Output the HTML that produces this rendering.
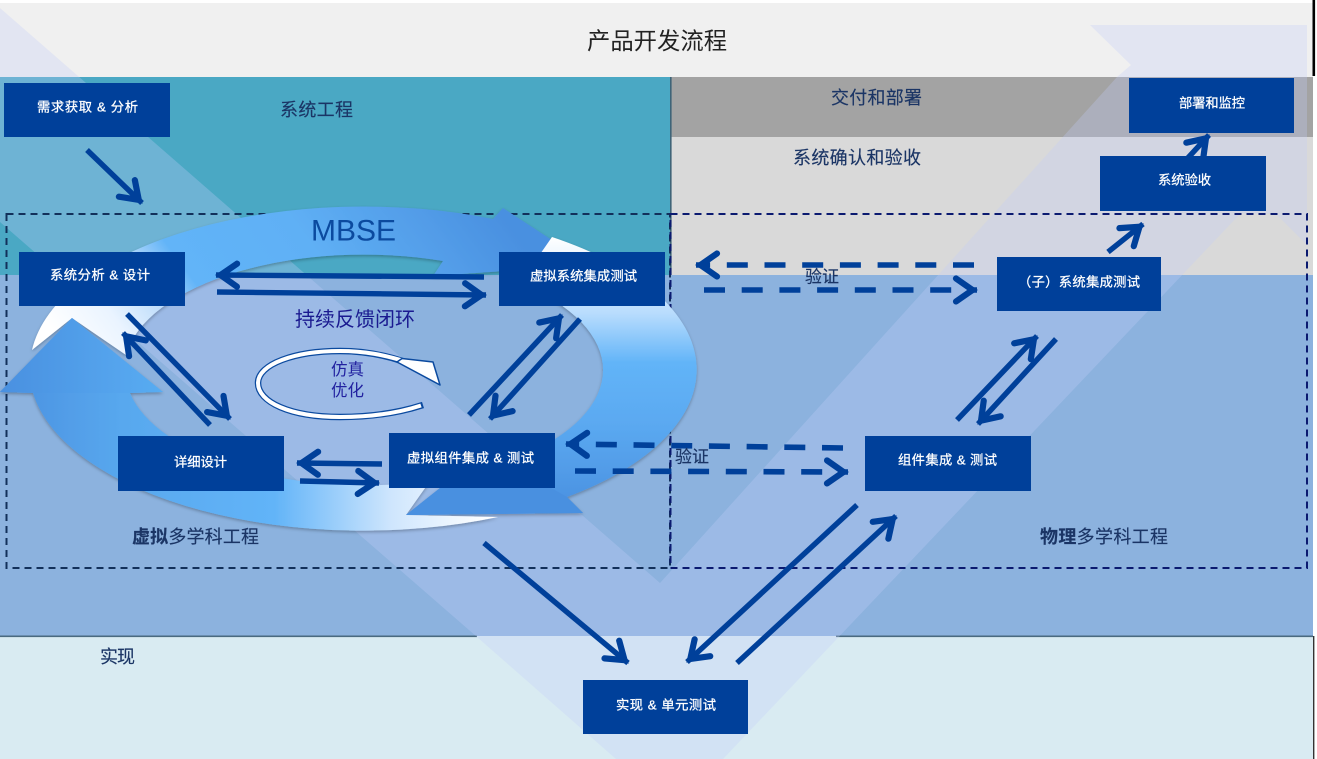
<!DOCTYPE html>
<html lang="zh">
<head>
<meta charset="utf-8">
<title>产品开发流程</title>
<style>
html,body{margin:0;padding:0;background:#fff;width:1317px;height:759px;overflow:hidden}
svg{display:block;filter:blur(.35px)}
text{font-family:"Liberation Sans","Noto Sans CJK SC",sans-serif}
.b{fill:#fff;stroke:#fff;stroke-width:.25;font-size:13.3px;dominant-baseline:central}
.s{fill:#1b3565;stroke:#1b3565;stroke-width:.15;font-size:18px;dominant-baseline:central}
.box{fill:#00409a}
.a{stroke:#00409a;stroke-width:5.4;fill:none;marker-end:url(#h)}
.d{stroke:#00409a;stroke-width:5.6;fill:none;stroke-dasharray:21 16.7;marker-end:url(#h)}
</style>
</head>
<body>
<svg width="1317" height="759" viewBox="0 0 1317 759" xmlns="http://www.w3.org/2000/svg">
<defs>
<marker id="h" markerUnits="userSpaceOnUse" markerWidth="40" markerHeight="40" refX="0" refY="0" viewBox="-30 -20 40 40" orient="auto">
<path d="M-21,-11.5 L-4.5,0 L-21,11.5" fill="none" stroke="#00409a" stroke-width="6.2" stroke-linecap="round"/>
</marker>
<linearGradient id="ga" gradientUnits="userSpaceOnUse" x1="60" y1="340" x2="520" y2="0">
<stop offset="0" stop-color="#ffffff"/><stop offset=".1" stop-color="#eaf4ff"/><stop offset=".18" stop-color="#bcdcfb"/><stop offset=".25" stop-color="#62b4f8"/><stop offset=".45" stop-color="#5fb0f5"/><stop offset=".75" stop-color="#4a90e0"/>
</linearGradient>
<linearGradient id="gb" gradientUnits="userSpaceOnUse" x1="0" y1="237" x2="0" y2="510">
<stop offset="0" stop-color="#ffffff"/><stop offset=".28" stop-color="#b8dcfd"/><stop offset=".46" stop-color="#62b4f8"/><stop offset=".7" stop-color="#5aa8f0"/><stop offset="1" stop-color="#4a90e0"/>
</linearGradient>
<linearGradient id="gc" gradientUnits="userSpaceOnUse" x1="490" y1="0" x2="0" y2="0">
<stop offset="0" stop-color="#ffffff"/><stop offset=".2" stop-color="#cfe6fd"/><stop offset=".44" stop-color="#62b4f8"/><stop offset=".75" stop-color="#58a8ee"/><stop offset="1" stop-color="#4a90e0"/>
</linearGradient>
<linearGradient id="gh" gradientUnits="userSpaceOnUse" x1="0" y1="0" x2="163" y2="0">
<stop offset="0" stop-color="#4a90e0"/><stop offset="1" stop-color="#58acf2"/>
</linearGradient>
<filter id="sh" x="-5%" y="-5%" width="110%" height="110%">
<feDropShadow dx="0" dy="1.5" stdDeviation="1.5" flood-color="#000" flood-opacity=".28"/>
</filter>
</defs>

<!-- bands -->
<rect x="0" y="0" width="1317" height="759" fill="#fff"/>
<rect x="0" y="3" width="1313" height="74" fill="#f0f0f0"/>
<rect x="0" y="77" width="671" height="198" fill="#4aa8c4"/>
<rect x="671" y="77" width="642" height="60" fill="#a3a3a3"/>
<rect x="671" y="137" width="642" height="138" fill="#d9d9d9"/>
<rect x="0" y="275" width="1313" height="361" fill="#8cb2de"/>
<rect x="0" y="636" width="1313" height="123" fill="#d9ebf2"/>
<rect x="670" y="77" width="1.6" height="198" fill="#3f6478"/>
<rect x="0" y="635.5" width="477" height="1.6" fill="#4a6a80"/>
<rect x="836" y="635.5" width="477" height="1.6" fill="#4a6a80"/>

<!-- V overlay -->
<polygon points="0,8 660,583 1117,77 1131,65 1090,25 1307,25 1307,245 1276,214 1240,214 723,759 616,759 477,637 0,222" fill="rgb(197,205,249)" fill-opacity=".3"/>

<rect x="1312.5" y="0" width="2.6" height="76" fill="#000"/>
<rect x="1313" y="636" width="1.4" height="123" fill="#333"/>

<!-- dashed frames -->
<rect x="6.5" y="214" width="663.5" height="354" fill="none" stroke="#12305a" stroke-width="2" stroke-dasharray="7 5"/>
<rect x="670.5" y="214" width="636.5" height="354" fill="none" stroke="#0b1a70" stroke-width="2" stroke-dasharray="7 5"/>

<!-- cycle -->
<g filter="url(#sh)">
<path d="M32,350 A334,161 0 0 1 493,219 L503,208 L590,265 L433,276 L443,261 A240,115 0 0 0 126,355 L72,318 Z" fill="url(#ga)"/>
<path d="M552,237 A334,161 0 0 1 567,497 L583,513 L406,515 L440,488 L520,457 A240,115 0 0 0 520,283 Z" fill="url(#gb)"/>
<path d="M498,517 A334,161 0 0 1 33,393 L0,392 L72,318 L163,392 L130,393 A240,115 0 0 0 430,481 L406,515 Z" fill="url(#gc)"/>
<path d="M583,513 L406,515 L440,488 L520,470 L567,497 Z" fill="#4a90e0"/>
<path d="M0,392 L72,318 L163,392 L130,393 L33,393 Z" fill="url(#gh)"/>
</g>

<!-- loop arrow -->
<path d="M423,405 C395,414 365,417 340,417 C290,417 258,402 258,383 C258,364 295,351 340,351 C365,351 385,355 405,362" fill="none" stroke="#0b4a9f" stroke-width="6.5"/>
<path d="M421,405.5 C395,414 365,417 340,417 C290,417 258,402 258,383 C258,364 295,351 340,351 C365,351 385,355 407,362" fill="none" stroke="#fff" stroke-width="4"/>
<path d="M397,362 L402,358.5 L433,362 L440,385 Z" fill="#fff" stroke="#0b4a9f" stroke-width="1.5" stroke-linejoin="round"/>

<!-- arrows -->
<line class="a" x1="87" y1="150" x2="142" y2="203"/>
<line class="a" x1="484" y1="277" x2="216" y2="275"/>
<line class="a" x1="217" y1="292" x2="486" y2="295"/>
<line class="a" x1="127" y1="314" x2="230" y2="419"/>
<line class="a" x1="210" y1="425" x2="123" y2="333"/>
<line class="a" x1="469" y1="415" x2="562" y2="315"/>
<line class="a" x1="580" y1="319" x2="490" y2="419"/>
<line class="a" x1="382" y1="464" x2="297" y2="463"/>
<line class="a" x1="300" y1="481" x2="379" y2="483"/>
<line class="d" x1="974" y1="265" x2="696" y2="265"/>
<line class="d" x1="704" y1="290" x2="977" y2="290"/>
<line class="d" x1="843" y1="448" x2="566" y2="444"/>
<line class="d" x1="575" y1="471" x2="848" y2="472"/>
<line class="a" x1="957" y1="420" x2="1037" y2="336"/>
<line class="a" x1="1056" y1="339" x2="978" y2="424"/>
<line class="a" x1="1108" y1="252" x2="1143" y2="224"/>
<line class="a" x1="1186" y1="160" x2="1209" y2="135"/>
<line class="a" x1="484" y1="543" x2="628" y2="663"/>
<line class="a" x1="857" y1="505" x2="687" y2="662"/>
<line class="a" x1="737" y1="663" x2="896" y2="516"/>

<!-- boxes -->
<rect class="box" x="4" y="83" width="166" height="54"/>
<rect class="box" x="19" y="252" width="166" height="54"/>
<rect class="box" x="499" y="252" width="166" height="54"/>
<rect class="box" x="118" y="436" width="166" height="55"/>
<rect class="box" x="389" y="433" width="166" height="55"/>
<rect class="box" x="865" y="436" width="166" height="55"/>
<rect class="box" x="997" y="257" width="164" height="54"/>
<rect class="box" x="1100" y="156" width="166" height="55"/>
<rect class="box" x="1129" y="78" width="165" height="55"/>
<rect class="box" x="583" y="680" width="165" height="54"/>

<!-- box labels -->
<text class="b" x="37" y="107" textLength="101">需求获取 &amp; 分析</text>
<text class="b" x="50" y="275" textLength="100">系统分析 &amp; 设计</text>
<text class="b" x="530" y="276" textLength="107">虚拟系统集成测试</text>
<text class="b" x="174" y="462" textLength="53">详细设计</text>
<text class="b" x="407" y="458" textLength="127">虚拟组件集成 &amp; 测试</text>
<text class="b" x="898" y="460" textLength="99">组件集成 &amp; 测试</text>
<text class="b" x="1018" y="282" textLength="122">（子）系统集成测试</text>
<text class="b" x="1158" y="180" textLength="53">系统验收</text>
<text class="b" x="1179" y="103" textLength="66">部署和监控</text>
<text class="b" x="616" y="705" textLength="100">实现 &amp; 单元测试</text>

<!-- section labels -->
<text x="587" y="41" font-size="23.3" fill="#222" dominant-baseline="central" textLength="140">产品开发流程</text>
<text class="s" x="280" y="110" textLength="73">系统工程</text>
<text class="s" x="831" y="98" textLength="91">交付和部署</text>
<text class="s" x="793" y="158" textLength="128">系统确认和验收</text>
<text class="s" x="100" y="657" textLength="35">实现</text>
<text class="s" x="132" y="537" textLength="127"><tspan font-weight="bold">虚拟</tspan>多学科工程</text>
<text class="s" x="1040" y="537" textLength="128"><tspan font-weight="bold">物理</tspan>多学科工程</text>
<text class="s" x="805" y="277" style="font-size:17px">验证</text>
<text class="s" x="675" y="457" style="font-size:17px">验证</text>
<text x="295" y="320" font-size="20" fill="#1a1a90" dominant-baseline="central" textLength="120">持续反馈闭环</text>
<text x="311" y="231" font-size="30" fill="#0b4a9f" dominant-baseline="central">MBSE</text>
<text x="331" y="370" font-size="16.5" fill="#2222a0" dominant-baseline="central">仿真</text>
<text x="331" y="391" font-size="16.5" fill="#2222a0" dominant-baseline="central">优化</text>
</svg>
</body>
</html>
